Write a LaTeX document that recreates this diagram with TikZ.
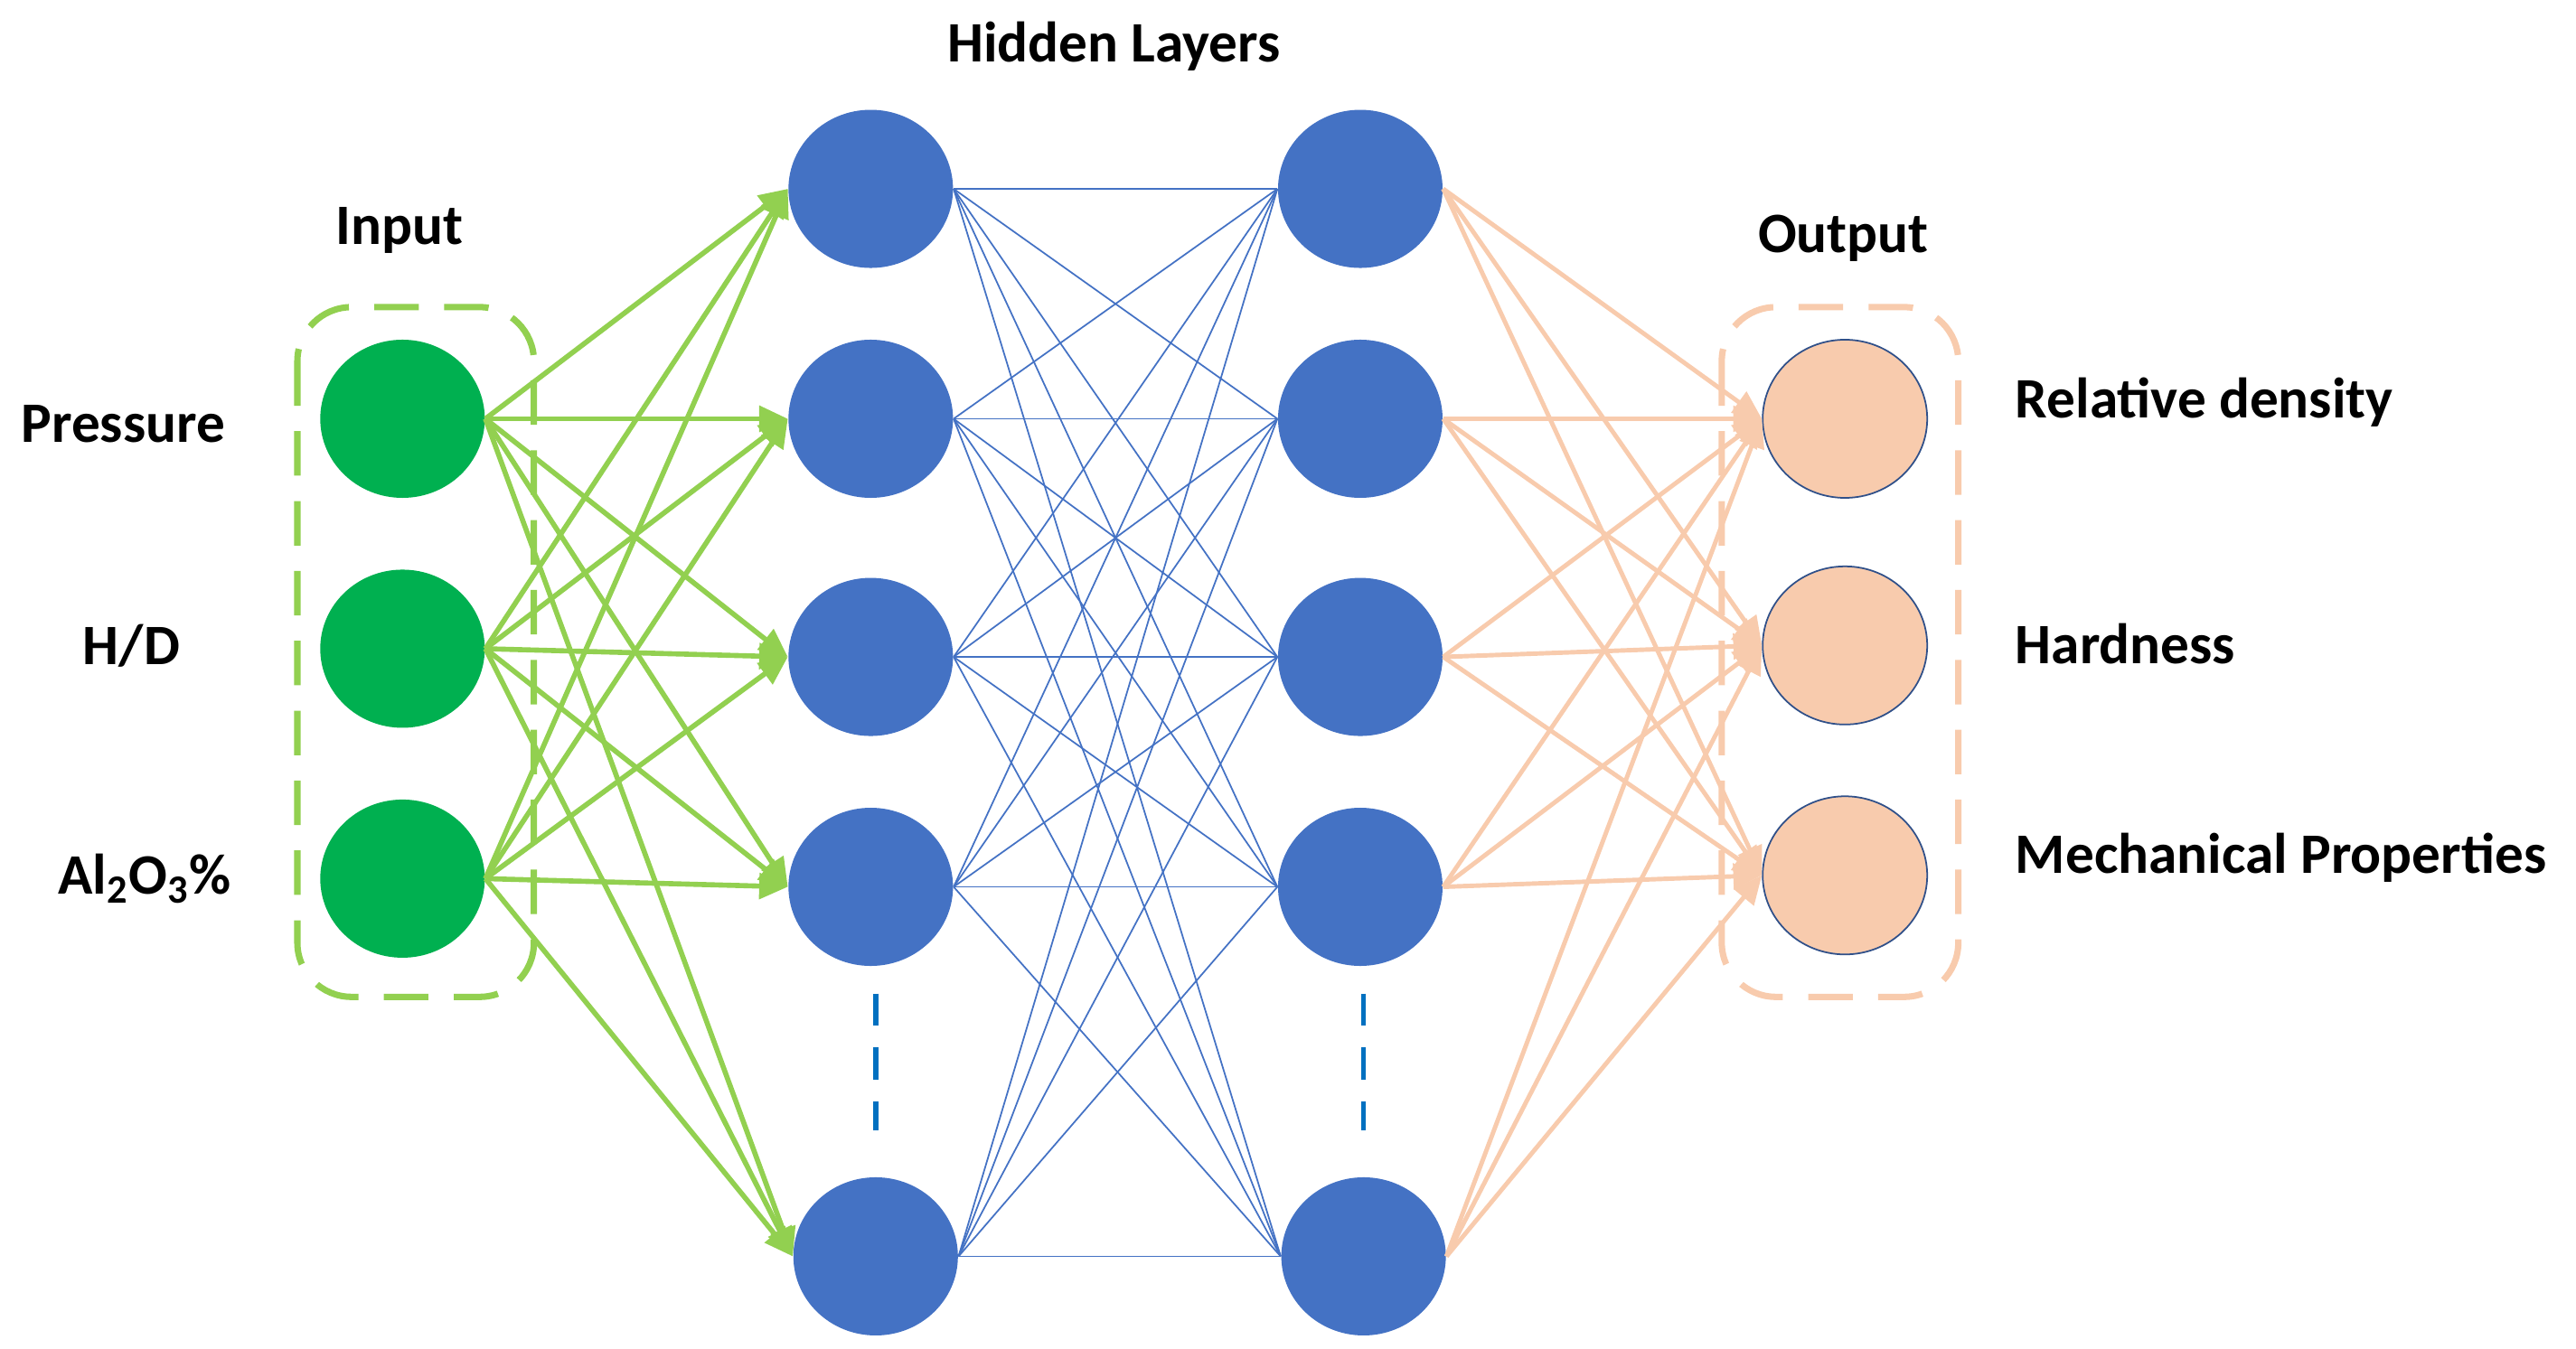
\documentclass[tikz,border=0pt]{standalone}
\usepackage{fontspec}
\setmainfont{Carlito}
\usetikzlibrary{shapes.geometric,arrows.meta}
\definecolor{gfill}{HTML}{00B050}
\definecolor{gline}{HTML}{92D050}
\definecolor{hblue}{HTML}{4472C4}
\definecolor{peach}{HTML}{F8CBAD}
\definecolor{dblue}{HTML}{0070C0}
\begin{document}
\begin{tikzpicture}[x=0.018176cm,y=-0.018176cm,
  neuron/.style={ellipse,minimum width=1.82cm,minimum height=1.75cm,inner sep=0pt},
  inp/.style={neuron,fill=gfill},
  hid/.style={neuron,fill=hblue},
  outp/.style={neuron,fill=peach,draw=hblue!70!black,line width=0.5pt},
  lbl/.style={font=\bfseries\fontsize{18}{20}\selectfont},
  garrow/.style={gline,line width=1.6pt,-{Triangle[length=9pt,width=8pt]}},
  barrow/.style={hblue,line width=0.5pt},
  parrow/.style={peach,line width=1.4pt,-{Triangle[length=9pt,width=8pt]}}]
\useasboundingbox (0,0) rectangle (1568,821);
% boxes
\draw[gline,line width=2pt,dash pattern=on 14pt off 8pt,rounded corners=0.6cm] (181,187) rectangle (325,607);
\draw[peach,line width=2pt,dash pattern=on 14pt off 8pt,rounded corners=0.6cm] (1048,187) rectangle (1192,607);
% nodes
\node[inp] (i1) at (245,255) {};
\node[inp] (i2) at (245,395) {};
\node[inp] (i3) at (245,535) {};
\node[hid] (a1) at (530,115) {};
\node[hid] (a2) at (530,255) {};
\node[hid] (a3) at (530,400) {};
\node[hid] (a4) at (530,540) {};
\node[hid] (a5) at (533,765) {};
\node[hid] (b1) at (828,115) {};
\node[hid] (b2) at (828,255) {};
\node[hid] (b3) at (828,400) {};
\node[hid] (b4) at (828,540) {};
\node[hid] (b5) at (830,765) {};
\node[outp] (o1) at (1123,255) {};
\node[outp] (o2) at (1123,393) {};
\node[outp] (o3) at (1123,533) {};
% edges
\foreach \i in {1,2,3}{\foreach \a in {1,...,5}{\draw[garrow] (i\i.east) -- (a\a.west);}}
\foreach \a in {1,...,5}{\foreach \b in {1,...,5}{\draw[barrow] (a\a.east) -- (b\b.west);}}
\foreach \b in {1,...,5}{\foreach \o in {1,2,3}{\draw[parrow] (b\b.east) -- (o\o.west);}}
% dots
\coordinate (d1a) at (533,605); \coordinate (d1b) at (533,688);
\coordinate (d2a) at (830,605); \coordinate (d2b) at (830,688);
\draw[dblue,line width=1.6pt,dash pattern=on 10pt off 7pt] (d1a) -- (d1b);
\draw[dblue,line width=1.6pt,dash pattern=on 10pt off 7pt] (d2a) -- (d2b);
% labels
\node[lbl] (th) at (678,28) {Hidden Layers};
\node[lbl] (ti) at (243,140) {Input};
\node[lbl] (to) at (1122,145) {Output};
\node[lbl] (l1) at (75,258) {Pressure};
\node[lbl] (l2) at (80,393) {H/D};
\node[lbl] (l3) at (88,535) {Al$_\mathbf{2}$O$_\mathbf{3}$\%};
\node[lbl,anchor=west] (r1) at (1220,245) {Relative density};
\node[lbl,anchor=west] (r2) at (1220,392) {Hardness};
\node[lbl,anchor=west] (r3) at (1220,522) {Mechanical Properties};
\end{tikzpicture}
\end{document}
